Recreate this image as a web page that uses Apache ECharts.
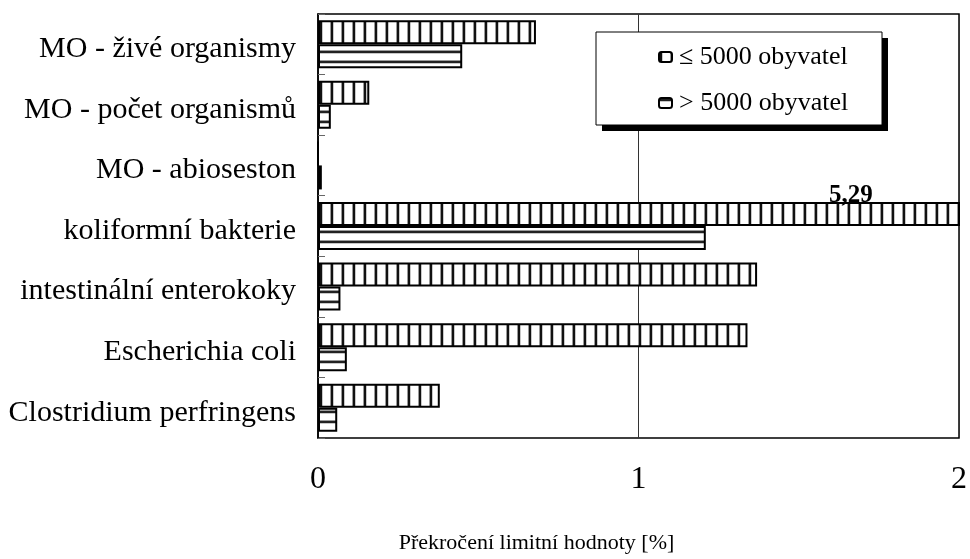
<!DOCTYPE html>
<html>
<head>
<meta charset="utf-8">
<script src="https://cdn.jsdelivr.net/npm/echarts@6/dist/echarts.min.js"></script>
<style>
  html, body { margin: 0; padding: 0; background: #fff; }
  #chart { width: 970px; height: 559px; }
</style>
</head>
<body>
<div id="chart"></div>
<script>
// Categories listed top to bottom
const categories = [
  'MO - živé organismy',
  'MO - počet organismů',
  'MO - abioseston',
  'koliformní bakterie',
  'intestinální enterokoky',
  'Escherichia coli',
  'Clostridium perfringens'
];
const seriesNames = ['≤ 5000 obyvatel', '> 5000 obyvatel'];
const smallSupplies = [0.68, 0.16, 0, 5.29, 1.37, 1.34, 0.38];
const largeSupplies = [0.45, 0.04, 0.012, 1.21, 0.07, 0.09, 0.06];
const xTicks = [0, 1, 2];
const xTitle = 'Překročení limitní hodnoty [%]';

const serif = '"Liberation Serif", "DejaVu Serif", serif';

// Striped fills drawn onto small canvases and tiled
function stripePattern(vertical) {
  const c = document.createElement('canvas');
  const ctx = c.getContext('2d');
  if (vertical) {
    c.width = 11; c.height = 4;
    ctx.fillStyle = '#fff'; ctx.fillRect(0, 0, 11, 4);
    ctx.fillStyle = '#9a9a9a'; ctx.fillRect(0, 0, 1, 4);
    ctx.fillStyle = '#111'; ctx.fillRect(1, 0, 2, 4);
    ctx.fillStyle = '#c8c8c8'; ctx.fillRect(3, 0, 1, 4);
  } else {
    c.width = 4; c.height = 10;
    ctx.fillStyle = '#fff'; ctx.fillRect(0, 0, 4, 10);
    ctx.fillStyle = '#9a9a9a'; ctx.fillRect(0, 0, 4, 1);
    ctx.fillStyle = '#222'; ctx.fillRect(0, 1, 4, 2);
    ctx.fillStyle = '#c8c8c8'; ctx.fillRect(0, 3, 4, 1);
  }
  return { image: c, repeat: 'repeat' };
}

const chart = echarts.init(document.getElementById('chart'), null, { renderer: 'canvas' });

// Legend frame with a solid drop shadow
const legendBox = { x: 596, y: 32, w: 286, h: 93, shadow: 6 };

chart.setOption({
  animation: false,
  backgroundColor: '#fff',
  grid: {
    left: 318, right: 8, top: 14, bottom: 117,
    show: true, borderColor: '#000', borderWidth: 1.5, backgroundColor: 'transparent'
  },
  graphic: [
    {
      type: 'rect', z: 20, silent: true,
      shape: { x: legendBox.x + legendBox.shadow, y: legendBox.y + legendBox.shadow, width: legendBox.w, height: legendBox.h },
      style: { fill: '#000' }
    },
    {
      type: 'rect', z: 21, silent: true,
      shape: { x: legendBox.x, y: legendBox.y, width: legendBox.w, height: legendBox.h },
      style: { fill: '#fff', stroke: '#000', lineWidth: 1 }
    }
  ],
  legend: {
    z: 30,
    orient: 'vertical',
    left: legendBox.x, top: legendBox.y,
    padding: [12, 30, 9, 62],
    itemGap: 20,
    itemWidth: 13, itemHeight: 10,
    textStyle: { fontFamily: serif, fontSize: 26, color: '#000', padding: [0, 0, 0, 2] },
    data: seriesNames
  },
  xAxis: {
    type: 'value',
    min: xTicks[0], max: xTicks[xTicks.length - 1], interval: 1,
    axisLine: { show: false },
    axisTick: { show: false },
    splitLine: { show: true, lineStyle: { color: '#333', width: 1 } },
    axisLabel: { fontFamily: serif, fontSize: 32, color: '#000', margin: 26 },
    name: xTitle,
    nameLocation: 'middle',
    nameGap: 94,
    nameTextStyle: { fontFamily: serif, fontSize: 22, color: '#000', padding: [0, 204, 0, 0] }
  },
  yAxis: {
    type: 'category',
    inverse: true,
    data: categories,
    axisLine: { show: true, lineStyle: { color: '#000', width: 1.5 } },
    axisTick: { show: true, inside: true, length: 7, interval: 0, lineStyle: { color: '#666', width: 1 } },
    axisLabel: {
      fontFamily: serif, fontSize: 30, color: '#000', margin: 22, interval: 0,
      verticalAlign: 'top', lineHeight: 10
    }
  },
  series: [
    {
      name: seriesNames[0],
      type: 'bar',
      data: smallSupplies,
      barWidth: 24,
      barGap: '0%',
      itemStyle: { color: stripePattern(true), borderColor: '#000', borderWidth: 2 },
      label: {
        show: true,
        formatter: p => (p.value > xTicks[xTicks.length - 1] ? String(p.value).replace('.', ',') : ''),
        position: ['83%', -6],
        align: 'center',
        verticalAlign: 'middle',
        fontFamily: serif, fontSize: 25, fontWeight: 'bold', color: '#000'
      }
    },
    {
      name: seriesNames[1],
      type: 'bar',
      data: largeSupplies,
      barWidth: 24,
      barGap: '0%',
      itemStyle: { color: stripePattern(false), borderColor: '#000', borderWidth: 2 }
    }
  ]
});
</script>
</body>
</html>
